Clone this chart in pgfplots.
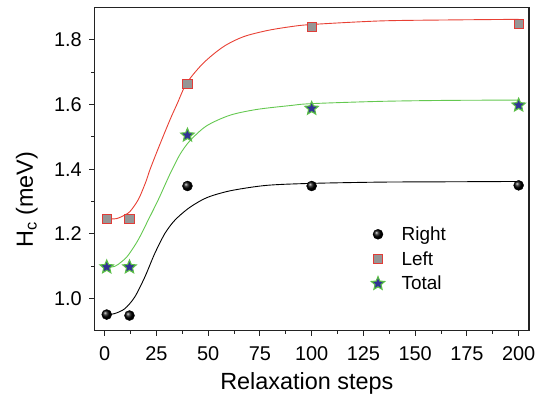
\documentclass[border=0pt]{standalone}
\usepackage{fontspec}
\setmainfont{Liberation Sans}
\usepackage{pgfplots}
\pgfplotsset{compat=1.18}
\usetikzlibrary{calc}

\definecolor{curvered}{RGB}{232,64,52}
\definecolor{curvegreen}{RGB}{100,200,80}
\definecolor{stargreen}{RGB}{90,190,70}
\definecolor{starblue}{RGB}{50,50,150}
\definecolor{sqgray}{RGB}{150,150,150}
\definecolor{sqred}{RGB}{225,60,55}
\definecolor{framegray}{RGB}{35,35,35}

% filled five point star
\pgfdeclareplotmark{fstar}{%
  \pgfpathmoveto{\pgfpointpolar{90}{\pgfplotmarksize}}%
  \pgfpathlineto{\pgfpointpolar{126}{0.45\pgfplotmarksize}}%
  \pgfpathlineto{\pgfpointpolar{162}{\pgfplotmarksize}}%
  \pgfpathlineto{\pgfpointpolar{198}{0.45\pgfplotmarksize}}%
  \pgfpathlineto{\pgfpointpolar{234}{\pgfplotmarksize}}%
  \pgfpathlineto{\pgfpointpolar{270}{0.45\pgfplotmarksize}}%
  \pgfpathlineto{\pgfpointpolar{306}{\pgfplotmarksize}}%
  \pgfpathlineto{\pgfpointpolar{342}{0.45\pgfplotmarksize}}%
  \pgfpathlineto{\pgfpointpolar{18}{\pgfplotmarksize}}%
  \pgfpathlineto{\pgfpointpolar{54}{0.45\pgfplotmarksize}}%
  \pgfpathclose
  \pgfusepathqfillstroke
}

\begin{document}
\begin{tikzpicture}
\begin{axis}[
  scale only axis, width=434.7bp, height=323bp,
  xmin=-5, xmax=205, ymin=0.9, ymax=1.9,
  xtick={0,25,...,200}, ytick={1,1.2,1.4,1.6,1.8},
  minor x tick num=1, minor y tick num=1,
  tick align=outside, tick pos=left,
  major tick length=5bp, minor tick length=3bp,
  axis line style={line width=1.2bp, draw=framegray},
  every tick/.style={line width=1bp, draw=framegray},
  ticklabel style={font=\fontsize{20}{23}\selectfont},
  /pgf/number format/assume math mode=true,
  xticklabel style={yshift=-7.5bp},
  yticklabel style={xshift=-4bp, /pgf/number format/.cd, fixed, fixed zerofill, precision=1},
  xlabel={Relaxation steps},
  ylabel={H\textsubscript{c} (meV)},
  xlabel style={font=\fontsize{23.5}{27}\selectfont, at={(axis description cs:0.489,-0.162)}, anchor=center},
  ylabel style={font=\fontsize{23.5}{27}\selectfont, at={(axis description cs:-0.155,0.405)}, anchor=center},
  legend style={draw=none, fill=none, at={(axis description cs:0.63,0.335)}, anchor=north west,
    font=\fontsize{19}{22}\selectfont, row sep=5.5bp,
    /tikz/every odd column/.append style={column sep=15bp}},
  legend image code/.code={\draw[#1] plot coordinates {(0bp,0bp)};},
  legend cell align=left,
]
% fitted curves
\addplot[curvered, line width=0.9bp, smooth, forget plot] coordinates {
  (1,1.246) (5.7,1.247) (9.7,1.258) (12.1,1.268) (14.5,1.288) (16.9,1.314)
  (20.2,1.366) (21.8,1.397) (26,1.466) (31.5,1.552) (35,1.602) (39.6,1.666)
  (47.6,1.728) (57.3,1.779) (67,1.810) (78.3,1.829) (89.6,1.841) (100,1.848)
  (133,1.859) (165,1.862) (200,1.864)};
\addplot[curvegreen, line width=0.9bp, smooth, forget plot] coordinates {
  (1,1.097) (4.8,1.099) (8.1,1.113) (11.3,1.133) (16.1,1.180) (21,1.242)
  (25.8,1.304) (29.9,1.362) (32.3,1.395) (36.5,1.447) (41.2,1.488) (49.2,1.534)
  (60.5,1.567) (73.5,1.585) (89.6,1.597) (100,1.603) (133,1.610) (165,1.613)
  (200,1.614)};
\addplot[black, line width=0.9bp, smooth, forget plot] coordinates {
  (1,0.950) (4.8,0.953) (9.7,0.968) (14.5,1.004) (19.4,1.066) (24.2,1.139)
  (29.1,1.201) (33.9,1.242) (40.3,1.278) (46.8,1.304) (52.4,1.319) (62.1,1.335)
  (78.3,1.350) (99.3,1.356) (133,1.360) (165,1.361) (200,1.362)};
% measured points
\addplot[only marks, mark=ball, mark size=5bp, mark options={ball color=black}] coordinates {
  (1,0.950) (12,0.947) (40,1.348) (100,1.348) (200,1.350)};
\addlegendentry{Right}
\addplot[only marks, mark=square*, mark size=4.6bp,
  mark options={fill=sqgray, draw=sqred, line width=1bp}] coordinates {
  (1,1.246) (12,1.246) (40,1.663) (100,1.841) (200,1.849)};
\addlegendentry{Left}
\addplot[only marks, mark=fstar, mark size=7bp,
  mark options={fill=starblue, draw=stargreen, line width=1.1bp}] coordinates {
  (1,1.097) (12,1.097) (40,1.505) (100,1.588) (200,1.598)};
\addlegendentry{Total}
\end{axis}
\pgfresetboundingbox
\path ($(current axis.south west)+(-94.3bp,-73.3bp)$) rectangle ($(current axis.north east)+(8bp,7.7bp)$);
\end{tikzpicture}
\end{document}
